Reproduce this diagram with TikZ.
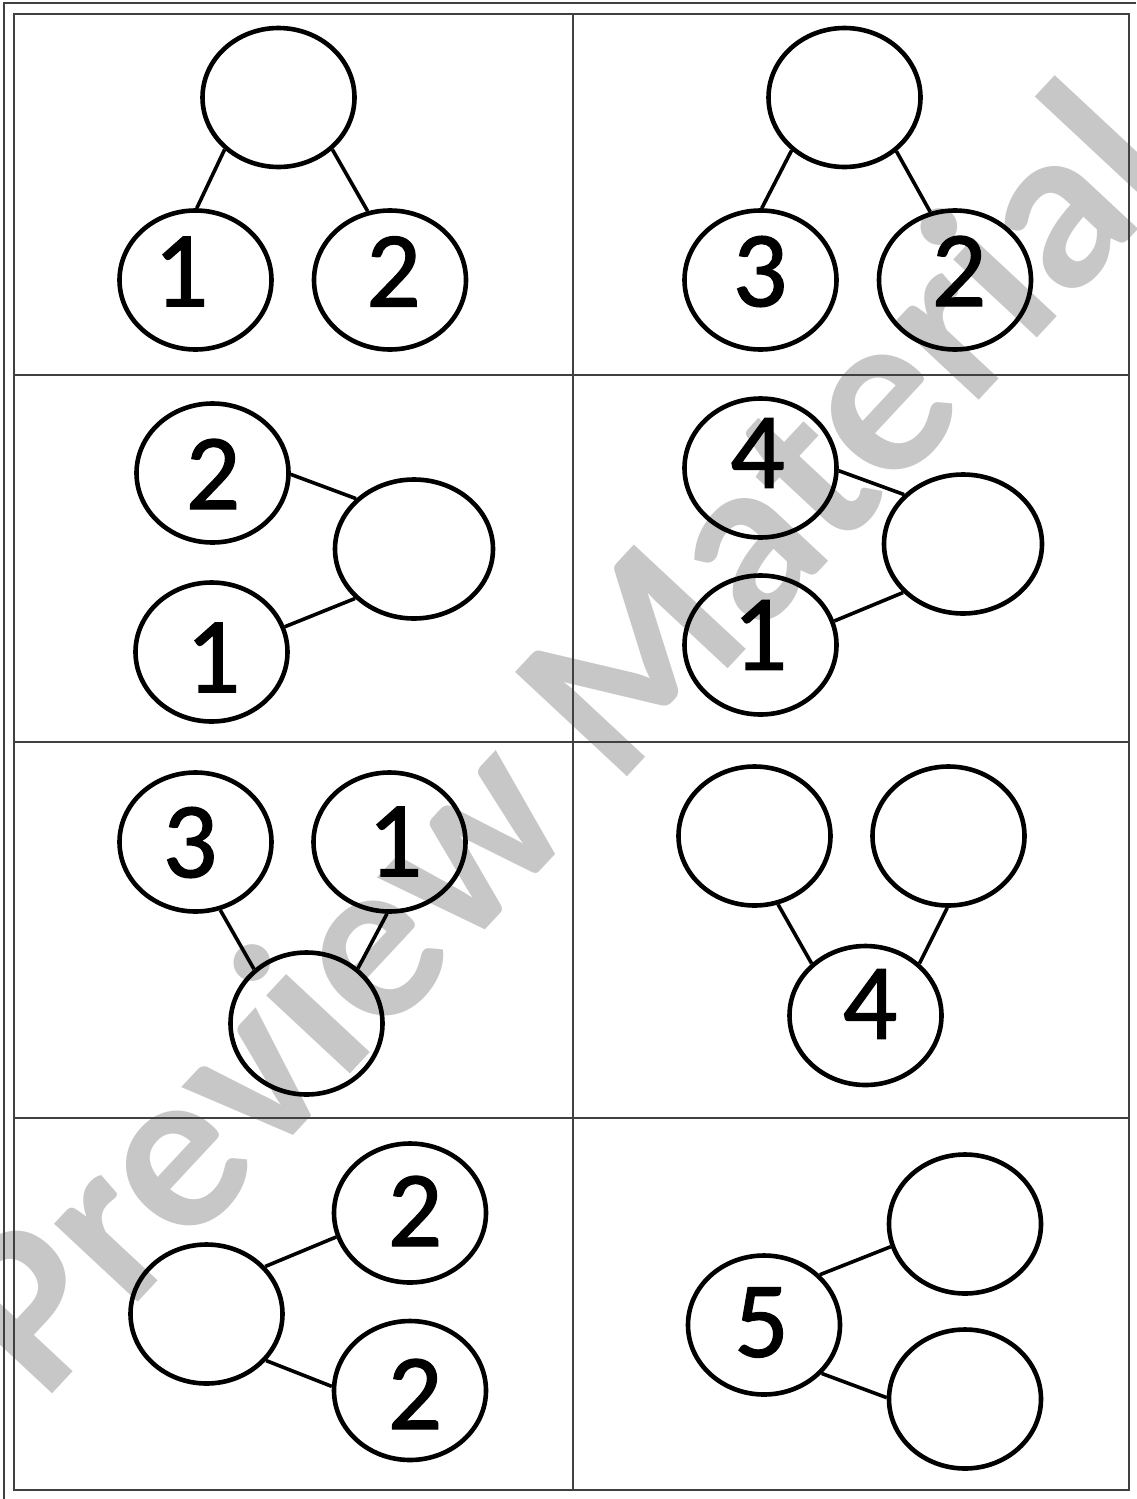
\documentclass[tikz,border=0pt]{standalone}
\usepackage{fontspec}
\setmainfont{Carlito}
\newfontfamily\digitfont[FakeBold=1.2]{Carlito}
\usetikzlibrary{shapes.geometric}
\begin{document}
\begin{tikzpicture}[x=0.5pt,y=-0.5pt,
  bond/.style={draw=black, line width=2.3pt, ellipse, inner sep=0pt, minimum width=76pt, minimum height=69.5pt},
  num/.style={inner sep=0pt, font=\digitfont\fontsize{54}{54}\selectfont},
  link/.style={draw=black, line width=1.8pt},
  gridline/.style={draw=black!75, line width=1pt},
  wm/.style={text=black!22, font=\bfseries\fontsize{118}{118}\selectfont, rotate=47, inner sep=0pt}
]
\useasboundingbox[fill=white] (0,0) rectangle (1136,1499);
% watermark
\node[wm] (wm) at (555,735) {Preview Material};
% frame and grid
\draw[gridline] (4,1499) -- (4,3) -- (1136,3);
\draw[gridline] (14,14) rectangle (1129,1490);
\draw[gridline] (573,14) -- (573,1490);
\draw[gridline] (14,375) -- (1129,375);
\draw[gridline] (14,742) -- (1129,742);
\draw[gridline] (14,1118) -- (1129,1118);
% cell 1
\node[bond] (t1) at (278.5,97.5) {};
\node[bond] (a1) at (195.5,280) {};
\node[bond] (b1) at (390,280) {};
\node[num] (na1) at (181,271.5) {1};
\node[num] (nb1) at (393.5,271.5) {2};
\draw[link] (t1.224) -- (a1.89);
\draw[link] (t1.316) -- (b1.108);
% cell 2
\node[bond] (t2) at (844.5,97.5) {};
\node[bond] (a2) at (760.5,280) {};
\node[bond] (b2) at (955,280) {};
\node[num] (na2) at (760,271.5) {3};
\node[num] (nb2) at (959,271) {2};
\draw[link] (t2.225) -- (a2.89);
\draw[link] (t2.314) -- (b2.110);
% cell 3
\node[bond] (c3a) at (212.5,473) {};
\node[bond] (c3b) at (211.5,652) {};
\node[bond, minimum width=79pt] (e3) at (414,549) {};
\node[num] (n3a) at (213,474) {2};
\node[num] (n3b) at (213,657.5) {1};
\draw[link] (c3a.359) -- (e3.139);
\draw[link] (c3b.19) -- (e3.220);
% cell 4
\node[bond] (c4a) at (760.5,468) {};
\node[bond] (c4b) at (760.5,645) {};
\node[bond, minimum width=79pt] (e4) at (963,544) {};
\node[num] (n4a) at (757.5,453) {4};
\node[num] (n4b) at (760,635) {1};
\draw[link] (c4a.358) -- (e4.140);
\draw[link] (c4b.18) -- (e4.219);
% cell 5
\node[bond] (c5a) at (195.5,842) {};
\node[bond] (c5b) at (389.5,842) {};
\node[bond, minimum height=71pt] (e5) at (306.5,1023.5) {};
\node[num] (n5a) at (190,842.5) {3};
\node[num] (n5b) at (395,841.5) {1};
\draw[link] (c5a.290) -- (e5.134);
\draw[link] (c5b.268) -- (e5.47);
% cell 6
\node[bond] (c6a) at (754.5,836) {};
\node[bond] (c6b) at (948.5,836) {};
\node[bond] (f6) at (865.5,1015.5) {};
\node[num] (n6) at (870,1004) {4};
\draw[link] (c6a.289) -- (f6.136);
\draw[link] (c6b.269) -- (f6.44);
% cell 7
\node[bond] (e7) at (206.5,1314) {};
\node[bond] (u7) at (410,1213) {};
\node[bond] (d7) at (410,1390.5) {};
\node[num] (n7u) at (415,1211) {2};
\node[num] (n7d) at (415,1394) {2};
\draw[link] (e7.39) -- (u7.198);
\draw[link] (e7.322) -- (d7.177);
% cell 8
\node[bond] (f8) at (764,1325) {};
\node[bond] (u8) at (965,1224) {};
\node[bond] (d8) at (965,1399) {};
\node[num] (n8) at (761.5,1322.5) {5};
\draw[link] (f8.42) -- (u8.197);
\draw[link] (f8.320) -- (d8.179);
\end{tikzpicture}
\end{document}
